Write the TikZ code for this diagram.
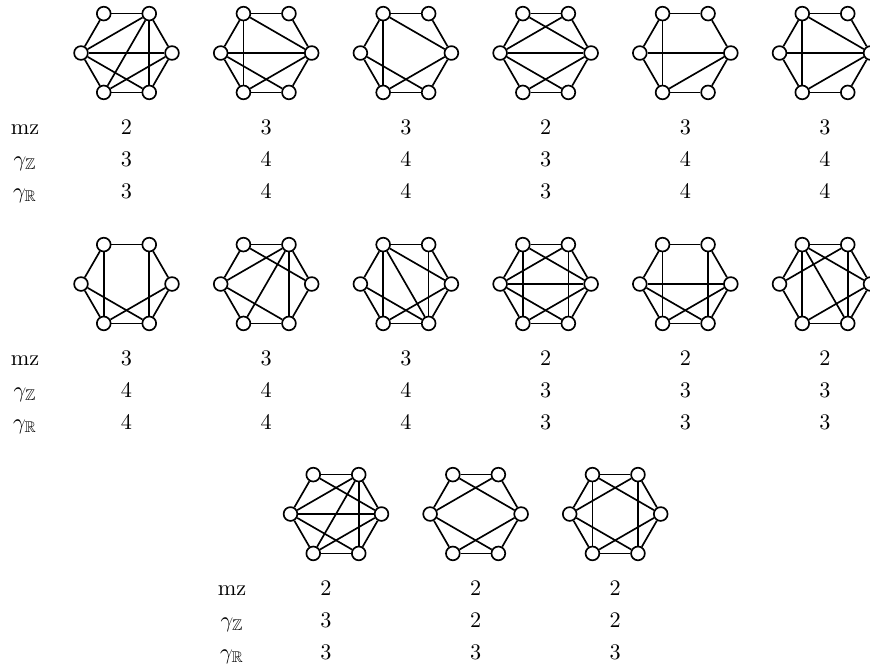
\documentclass[tikz,border=0pt]{standalone}
\usepackage{amssymb}
\tikzset{
  vert/.style={circle,draw,fill=white,line width=0.75pt,minimum size=6.2pt,inner sep=0pt},
  edge/.style={line width=0.75pt},
  lbl/.style={anchor=base,inner sep=0pt},
}
\newcommand{\hexgraph}[4]{%
  \foreach \v/\dx/\dy in {a/-22.75/-39.4,b/22.75/-39.4,c/45.5/0,d/22.75/39.4,e/-22.75/39.4,f/-45.5/0}{
    \node[vert] (#1\v) at ({#2+(\dx)},{#3+(\dy)}) {};
  }
  \foreach \p/\q in {#4}{ \draw[edge] (#1\p) -- (#1\q); }
}
\newcommand{\valrow}[4]{% name, base y, label x, then list x/val
  \foreach \xx/\val [count=\i] in {#4}{ \node[lbl] (#1n\i) at (\xx,#2) {\val}; }
}
\begin{document}
\begin{tikzpicture}[x=0.45pt,y=-0.45pt]
\useasboundingbox (0,0) rectangle (870,667);
\clip (0,0) rectangle (870,667);
% Row 1
\hexgraph{g1}{126.5}{53}{a/b,a/f,b/c,f/e,c/d,e/d,b/f,b/e,b/d,f/c,f/d,c/e}
\hexgraph{g2}{266.2}{53}{a/b,b/c,a/f,a/c,a/e,f/c,f/e,f/d,c/e,c/d,e/d}
\hexgraph{g3}{405.9}{53}{a/b,a/f,a/e,a/c,b/c,f/e,f/d,c/e,c/d,e/d}
\hexgraph{g4}{545.6}{53}{a/b,a/f,a/c,b/f,b/c,f/c,f/e,f/d,c/e,c/d,e/d}
\hexgraph{g5}{685.3}{53}{a/b,a/f,a/e,b/c,f/c,f/e,c/e,c/d,e/d}
\hexgraph{g6}{825}{53}{a/b,a/f,a/e,a/c,b/c,f/c,f/e,c/e,c/d,e/d}
% Row 2
\hexgraph{g7}{126.5}{284}{a/b,a/f,a/e,b/c,b/d,f/e,f/d,c/e,c/d,e/d}
\hexgraph{g8}{266.2}{284}{a/b,a/f,a/c,b/f,b/c,b/e,b/d,f/e,f/d,c/d,e/d}
\hexgraph{g9}{405.9}{284}{a/b,a/f,a/e,a/d,a/c,b/c,b/d,f/e,f/d,c/e,c/d,e/d}
\hexgraph{g10}{545.6}{284}{a/b,a/f,a/e,a/c,b/f,b/c,b/d,f/c,f/e,f/d,c/e,c/d,e/d}
\hexgraph{g11}{685.3}{284}{a/b,a/f,a/e,b/c,b/d,f/c,f/e,f/d,c/e,c/d,e/d}
\hexgraph{g12}{825}{284}{a/b,a/f,b/c,f/e,c/d,e/d,a/e,b/d,a/c,b/f,a/d,c/e}
% Row 3
\hexgraph{g13}{336}{514}{a/b,a/f,a/c,b/f,b/c,b/e,b/d,f/c,f/e,f/d,c/e,e/d,c/d}
\hexgraph{g14}{475.6}{514}{a/b,a/f,b/c,f/e,c/d,e/d,a/c,b/f,f/d,c/e}
\hexgraph{g15}{615.2}{514}{a/b,a/f,b/c,f/e,c/d,e/d,a/e,b/d,a/c,b/f,f/d,c/e}
% Labels row 1
\node[lbl] (l1a) at (25,134) {mz};
\node[lbl] (l1b) at (25,166) {$\gamma_{\mathbb{Z}}$};
\node[lbl] (l1c) at (25,198) {$\gamma_{\mathbb{R}}$};
\valrow{r1a}{134}{25}{126.5/2,266.2/3,405.9/3,545.6/2,685.3/3,825/3}
\valrow{r1b}{166}{25}{126.5/3,266.2/4,405.9/4,545.6/3,685.3/4,825/4}
\valrow{r1c}{198}{25}{126.5/3,266.2/4,405.9/4,545.6/3,685.3/4,825/4}
% Labels row 2
\node[lbl] (l2a) at (25,365) {mz};
\node[lbl] (l2b) at (25,397) {$\gamma_{\mathbb{Z}}$};
\node[lbl] (l2c) at (25,429) {$\gamma_{\mathbb{R}}$};
\valrow{r2a}{365}{25}{126.5/3,266.2/3,405.9/3,545.6/2,685.3/2,825/2}
\valrow{r2b}{397}{25}{126.5/4,266.2/4,405.9/4,545.6/3,685.3/3,825/3}
\valrow{r2c}{429}{25}{126.5/4,266.2/4,405.9/4,545.6/3,685.3/3,825/3}
% Labels row 3
\node[lbl] (l3a) at (232,595) {mz};
\node[lbl] (l3b) at (232,627) {$\gamma_{\mathbb{Z}}$};
\node[lbl] (l3c) at (232,659) {$\gamma_{\mathbb{R}}$};
\valrow{r3a}{595}{232}{326/2,475.6/2,615.2/2}
\valrow{r3b}{627}{232}{326/3,475.6/2,615.2/2}
\valrow{r3c}{659}{232}{326/3,475.6/3,615.2/3}
\end{tikzpicture}
\end{document}
